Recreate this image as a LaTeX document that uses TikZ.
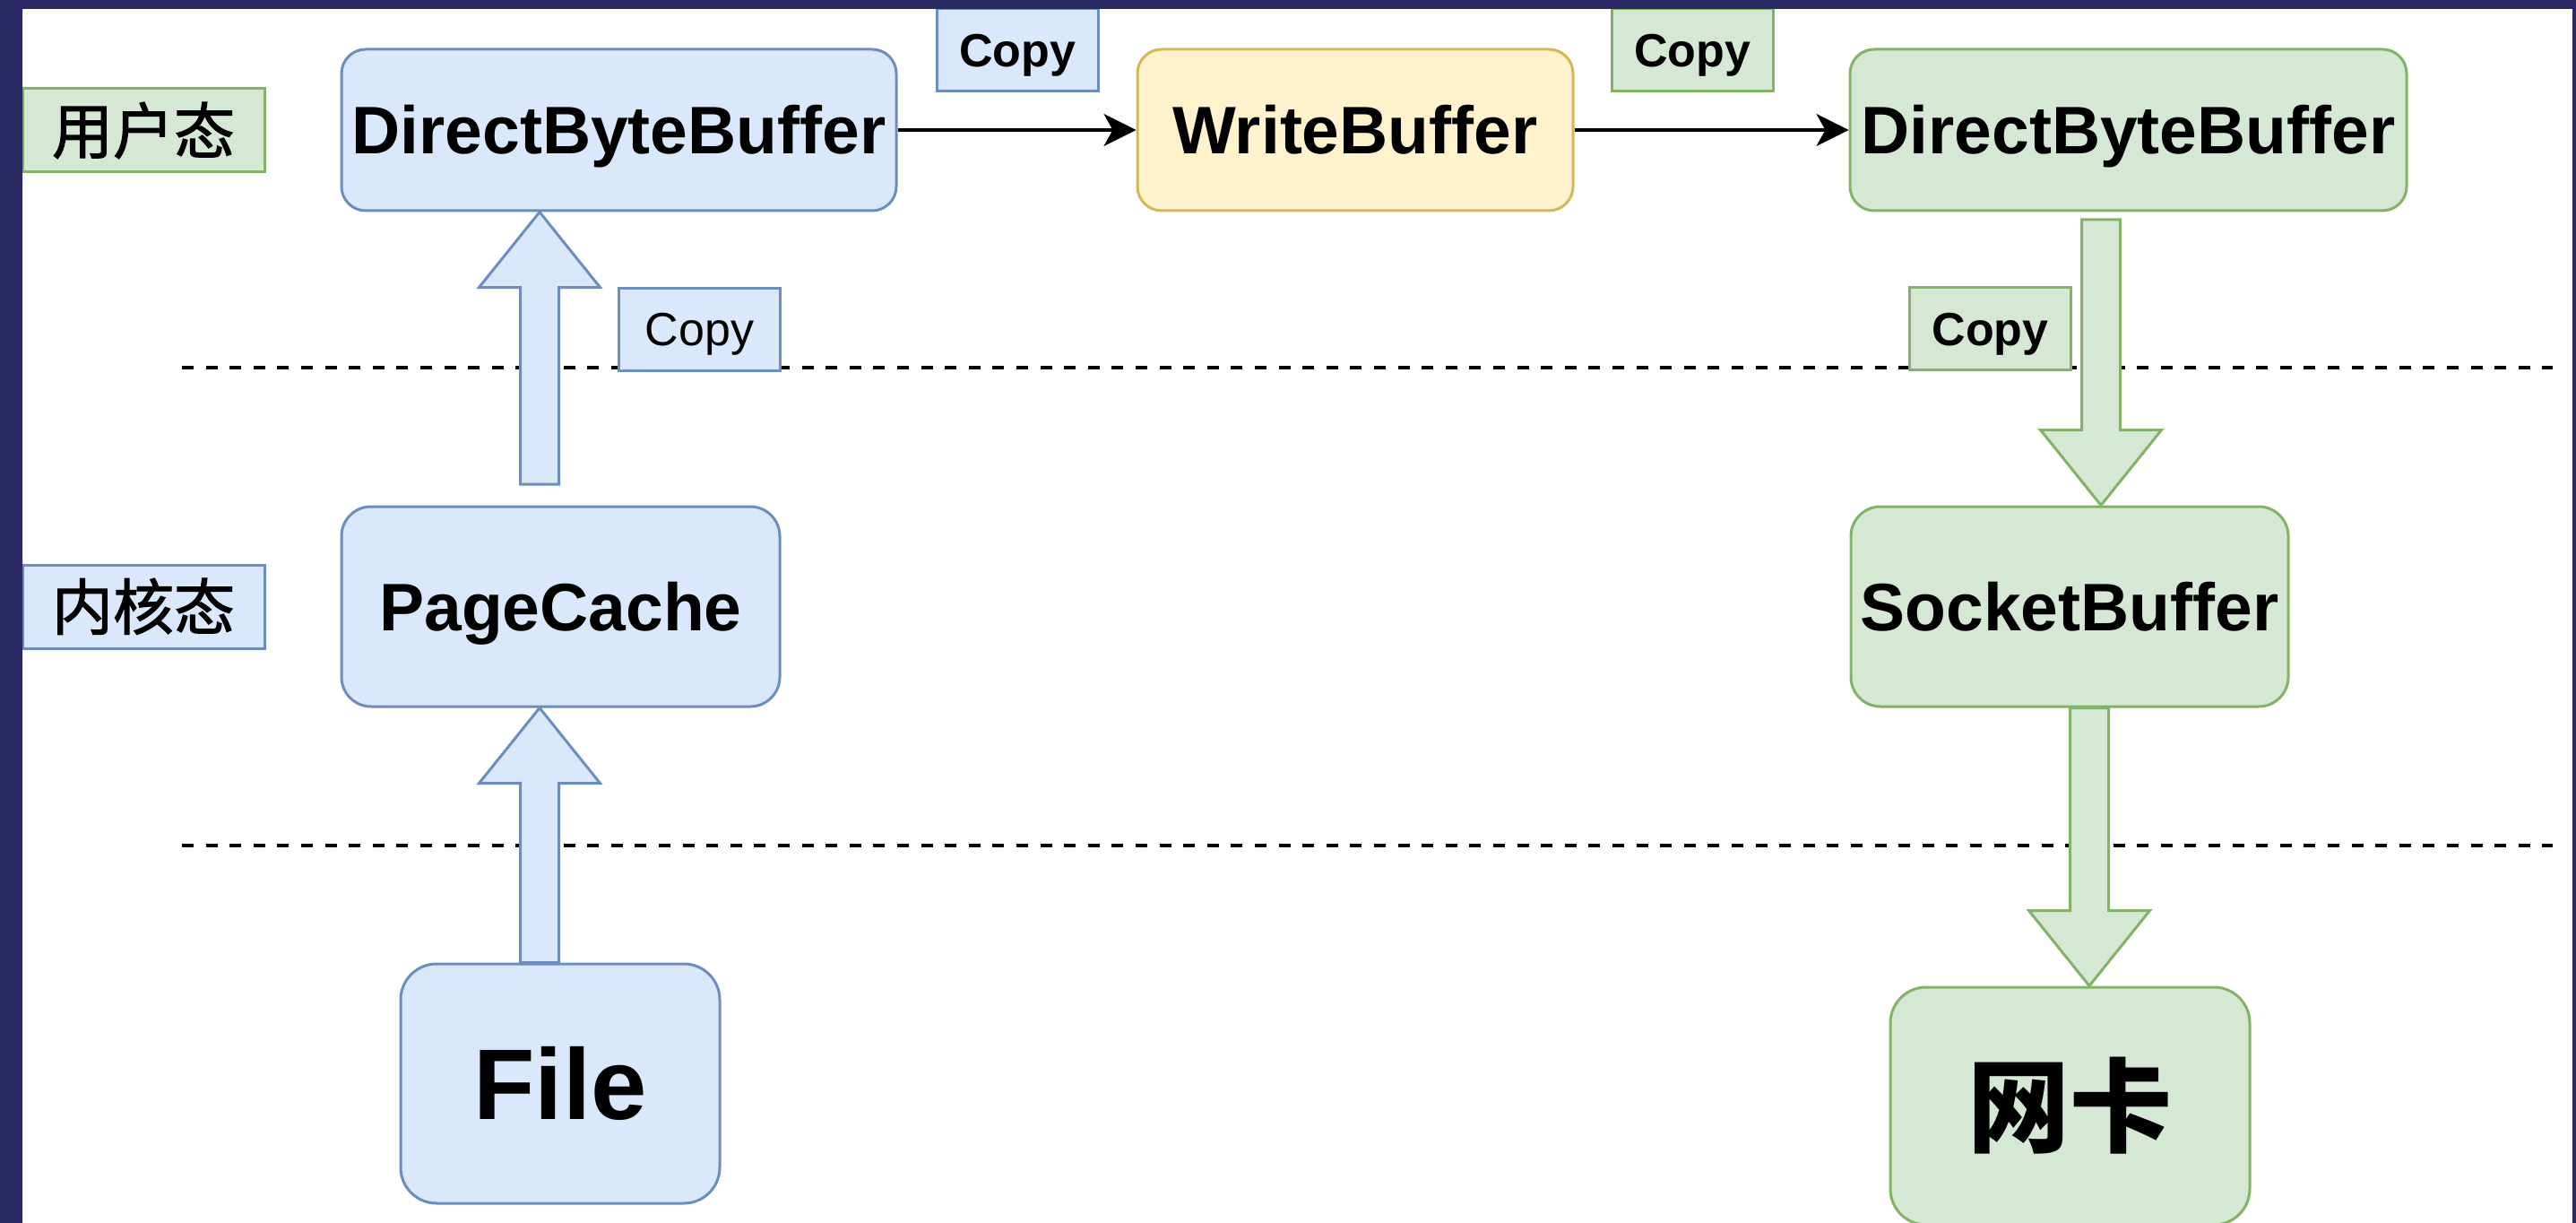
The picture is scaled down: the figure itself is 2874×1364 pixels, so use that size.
\documentclass[tikz,border=0pt]{standalone}
\usepackage{fontspec}
\setmainfont{Liberation Sans}
\newfontfamily\cjk{Noto Sans CJK SC}
\newfontfamily\cjkmid[RawFeature={embolden=1.6}]{Noto Sans CJK SC}
\usetikzlibrary{arrows.meta,calc}

\definecolor{navy}{RGB}{42,40,98}
\definecolor{bluefill}{HTML}{DAE8FC}
\definecolor{bluedraw}{HTML}{6C8EBF}
\definecolor{greenfill}{HTML}{D5E8D4}
\definecolor{greendraw}{HTML}{82B366}
\definecolor{yellowfill}{HTML}{FFF2CC}
\definecolor{yellowdraw}{HTML}{D6B656}

% hollow block arrow from a tail point to a tip point (vertical)
\newcommand\fatarrow[3]{%
  \path[#1] let \p1=(#2), \p2=(#3), \n1={sign(\y2-\y1)*42} in
    (\x1-10.75pt,\y1) -- (\x1-10.75pt,{\y2-\n1*1pt}) -- (\x1-33.75pt,{\y2-\n1*1pt})
    -- (\x2,\y2) -- (\x1+33.75pt,{\y2-\n1*1pt}) -- (\x1+10.75pt,{\y2-\n1*1pt})
    -- (\x1+10.75pt,\y1) -- cycle;}

\begin{document}
\begin{tikzpicture}[x=0.5pt,y=-0.5pt,
  box/.style={rectangle, rounded corners=#1, line width=1.5pt, inner sep=0pt,
    text height=26.9pt, text depth=0pt,
    font=\fontsize{37.5pt}{40pt}\selectfont\bfseries},
  bluebox/.style={box=#1, fill=bluefill, draw=bluedraw},
  greenbox/.style={box=#1, fill=greenfill, draw=greendraw},
  yellowbox/.style={box=#1, fill=yellowfill, draw=yellowdraw},
  tag/.style={rectangle, line width=1.5pt, inner sep=0pt,
    text height=18.6pt, text depth=0pt,
    minimum width=90pt, minimum height=46pt, font=\fontsize{26pt}{28pt}\selectfont},
  layer/.style={rectangle, line width=1.5pt, inner sep=0pt,
    text height=25.8pt, text depth=0pt,
    minimum width=135pt, minimum height=46.5pt, font=\cjkmid\fontsize{34pt}{36pt}\selectfont},
  sep/.style={line width=1.8pt, dash pattern=on 6.5pt off 6.8pt},
  conn/.style={line width=1.7pt, -{Stealth[length=18pt, width=18pt, inset=5pt]}},
  bluefat/.style={fill=bluefill, draw=bluedraw, line width=1.5pt},
  greenfat/.style={fill=greenfill, draw=greendraw, line width=1.5pt}]

\useasboundingbox (0,0) rectangle (2874,1364);
\fill[white] (0,0) rectangle (2874,1364);

% layer separators
\coordinate (s1a) at (203,410);  \coordinate (s1b) at (2848,410);
\coordinate (s2a) at (203,943);  \coordinate (s2b) at (2848,943);
\draw[sep] (s1a) -- (s1b);
\draw[sep] (s2a) -- (s2b);

% layer labels
\node[layer, fill=greenfill, draw=greendraw] (user) at (160,145.5) {用户态};
\node[layer, fill=bluefill, draw=bluedraw] (kern) at (160,676.5) {内核态};

% buffers
\node[bluebox=13.5pt, minimum width=309.5pt, minimum height=90pt] (dbb1) at (690.5,145) {DirectByteBuffer};
\node[yellowbox=13.5pt, minimum width=243pt, minimum height=90pt] (wb) at (1512,145) {WriteBuffer};
\node[greenbox=13.5pt, minimum width=310.5pt, minimum height=90pt] (dbb2) at (2374.5,145) {DirectByteBuffer};
\node[bluebox=16.5pt, minimum width=244.5pt, minimum height=111.5pt] (pc) at (625.5,676.5) {PageCache};
\node[greenbox=16.5pt, minimum width=244pt, minimum height=111.5pt] (sb) at (2309,676.5) {SocketBuffer};
\node[bluebox=20pt, minimum width=178pt, minimum height=133.5pt, text height=40pt,
  font=\fontsize{56pt}{60pt}\selectfont\bfseries] (file) at (625,1208.5) {File};
\node[greenbox=20pt, minimum width=200.5pt, minimum height=132.5pt, text height=43.3pt,
  font=\cjk\fontsize{57pt}{60pt}\selectfont\bfseries] (nic) at (2309.5,1233.5) {网卡};

% copy tags
\node[tag, fill=bluefill, draw=bluedraw, font=\fontsize{26pt}{28pt}\selectfont\bfseries] (c1) at (1135,56) {Copy};
\node[tag, fill=greenfill, draw=greendraw, font=\fontsize{26pt}{28pt}\selectfont\bfseries] (c2) at (1888,56) {Copy};
\node[tag, fill=bluefill, draw=bluedraw] (c3) at (780.5,367) {Copy};
\node[tag, fill=greenfill, draw=greendraw, font=\fontsize{26pt}{28pt}\selectfont\bfseries] (c4) at (2220.5,366.5) {Copy};

% copy paths between user space buffers
\draw[conn] (dbb1.east) -- (wb.west);
\draw[conn] (wb.east) -- (dbb2.west);

% block arrows across the layers
\coordinate (up1) at (602,540);
\coordinate (up2) at (602,0);
\coordinate (dn1) at (2344,245);
\coordinate (dn2) at (2331,0);
\fatarrow{bluefat}{up1}{up1 |- dbb1.south}
\fatarrow{bluefat}{up2 |- file.north}{up2 |- pc.south}
\fatarrow{greenfat}{dn1}{dn1 |- sb.north}
\fatarrow{greenfat}{dn2 |- sb.south}{dn2 |- nic.north}

% frame
\fill[navy, even odd rule] (0,0) rectangle (2874,1364) (25,10) rectangle (2870,1380);
\end{tikzpicture}
\end{document}
